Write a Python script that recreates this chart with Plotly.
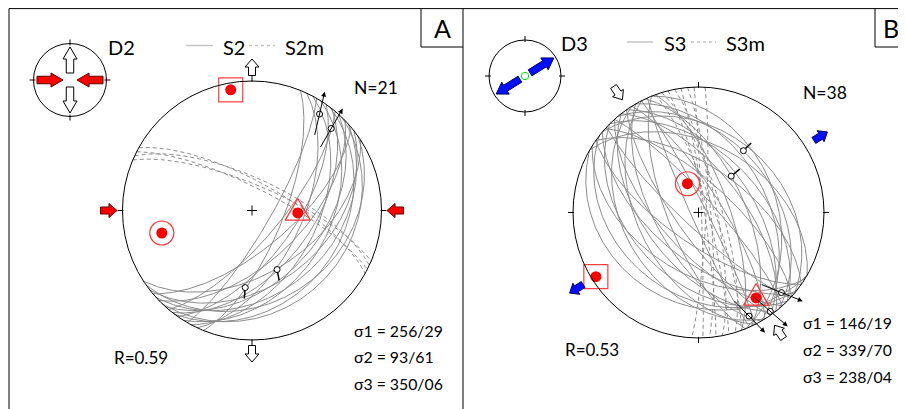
import numpy as np
import plotly.graph_objects as go

# ---------------- data ----------------
# Panel A (D2) : S2 cleavage planes (strike RHR / dip) and S2m
A_S2_strike = [22, 25, 28, 30, 32, 35, 37, 38, 40, 42, 44, 46, 48, 50, 52, 55, 57]
A_S2_dip = [70, 58, 48, 78, 40, 62, 30, 52, 72, 45, 24, 58, 36, 66, 42, 30, 50]
A_S2m_strike = [293, 295, 297, 299]
A_S2m_dip = [74, 70, 76, 72]
# Panel B (D3) : S3 planes and S3m
B_S3_strike = [300, 305, 310, 312, 315, 318, 320, 322, 325, 328, 330, 333, 335, 338, 340,
               122, 125, 128, 130, 133, 135, 138, 120, 142, 145, 148, 150, 153, 156, 158]
B_S3_dip = [45, 60, 35, 70, 50, 80, 40, 62, 55, 75, 45, 85, 60, 38, 70,
            50, 70, 35, 60, 80, 45, 65, 28, 55, 75, 40, 62, 50, 85, 70]
B_S3m_strike = [340, 343, 346, 349, 352, 355, 358, 3]
B_S3m_dip = [80, 75, 84, 78, 86, 82, 88, 85]

# principal stress axes (trend/plunge) and plotted symbol
sigma_labels = ["σ1", "σ2", "σ3"]
A_sigma_trend = [256, 93, 350]
A_sigma_plunge = [29, 61, 6]
A_sigma_symbol = ["ring", "triangle", "square"]
B_sigma_trend = [146, 339, 238]
B_sigma_plunge = [19, 70, 4]
B_sigma_symbol = ["triangle", "ring", "square"]
A_R_ratio = "0.59"
B_R_ratio = "0.53"
A_N = 21
B_N = 38

# striae (trend/plunge) with slip symbol kind and screen azimuth of the slip mark
A_stria_trend = [35, 44, 185, 157]
A_stria_plunge = [10, 13, 40, 49]
A_stria_kind = ["arrow", "arrow", "tick", "tick"]
A_stria_az = [13, 30, 185, 169]
B_stria_trend = [36, 42, 134, 144, 154]
B_stria_plunge = [39, 58, 9, 3, 9]
B_stria_kind = ["tick", "tick", "arrow", "arrow", "arrow"]
B_stria_az = [45, 50, 112, 131, 136]

# horizontal stress directions (azimuths) for the big arrows
A_compression_az = [90, 270]
A_extension_az = [0, 180]
B_compression_az = [146, 326]
B_extension_az = [58, 238]

# ---------------- geometry helpers ----------------
PA = dict(cx=252.0, cy=210.5, R=129.5)
PB = dict(cx=698.5, cy=212.5, R=125.5)
IA = dict(cx=70.0, cy=80.0, R=36.5)
IB = dict(cx=525.0, cy=76.0, R=36.0)


def proj_line(trend, plunge, P):
    t = np.radians(trend)
    p = np.radians(plunge)
    r = P["R"] * np.sqrt(1 - np.sin(p))
    return P["cx"] + r * np.sin(t), P["cy"] - r * np.cos(t)


def great_circles(strikes, dips, P, n=181):
    xs, ys = [], []
    for s_deg, d_deg in zip(strikes, dips):
        s = np.radians(s_deg)
        d = np.radians(d_deg)
        dd = s + np.pi / 2
        t = np.linspace(0, np.pi, n)
        S = np.array([np.sin(s), np.cos(s), 0.0])
        D = np.array([np.sin(dd) * np.cos(d), np.cos(dd) * np.cos(d), -np.sin(d)])
        v = np.outer(np.cos(t), S) + np.outer(np.sin(t), D)
        e, nn, u = v.T
        h = np.hypot(e, nn)
        h = np.where(h < 1e-9, 1, h)
        r = P["R"] * np.sqrt(np.clip(1 + u, 0, None))
        xs += list(P["cx"] + r * e / h) + [None]
        ys += list(P["cy"] - r * nn / h) + [None]
    return xs, ys


def block_arrow(tx, ty, az, L, hl, hw, sw):
    a = np.radians(az)
    f = np.array([np.sin(a), -np.cos(a)])
    p = np.array([np.cos(a), np.sin(a)])
    T = np.array([tx, ty])
    pts = [T,
           T - hl * f + hw / 2 * p,
           T - hl * f + sw / 2 * p,
           T - L * f + sw / 2 * p,
           T - L * f - sw / 2 * p,
           T - hl * f - sw / 2 * p,
           T - hl * f - hw / 2 * p]
    return "M " + " L ".join(f"{q[0]:.2f},{q[1]:.2f}" for q in pts) + " Z"


def polar(P, az, dist):
    a = np.radians(az)
    return P["cx"] + dist * np.sin(a), P["cy"] - dist * np.cos(a)


fig = go.Figure()
shapes = []
annotations = []

FONT = "Lato, 'Noto Sans', sans-serif"
GRAY = "#8c8c8c"

# frame
TOP = 8.6
for (x0, y0, x1, y1) in [(9, TOP, 912, TOP), (9, TOP, 9, 412), (463, TOP, 463, 412),
                         (421, TOP, 421, 47), (421, 47, 463, 47),
                         (875, TOP, 875, 47), (875, 47, 912, 47)]:
    shapes.append(dict(type="line", x0=x0, y0=y0, x1=x1, y1=y1,
                       line=dict(color="black", width=1)))
annotations.append(dict(x=442, y=28, text="A", showarrow=False,
                        font=dict(family=FONT, size=25, color="black")))
annotations.append(dict(x=891, y=28, text="B", showarrow=False,
                        font=dict(family=FONT, size=25, color="black")))


def stereonet(P, tick_len=5, inner=1, cross=True):
    shapes.append(dict(type="circle", x0=P["cx"] - P["R"], x1=P["cx"] + P["R"],
                       y0=P["cy"] - P["R"], y1=P["cy"] + P["R"],
                       line=dict(color="black", width=1)))
    for az in (0, 90, 180, 270):
        x0, y0 = polar(P, az, P["R"] - inner)
        x1, y1 = polar(P, az, P["R"] + tick_len)
        shapes.append(dict(type="line", x0=x0, y0=y0, x1=x1, y1=y1,
                           line=dict(color="black", width=1)))
    if cross:
        for (dx, dy) in [(5, 0), (0, 5)]:
            shapes.append(dict(type="line", x0=P["cx"] - dx, y0=P["cy"] - dy,
                               x1=P["cx"] + dx, y1=P["cy"] + dy,
                               line=dict(color="black", width=1)))


stereonet(PA)
stereonet(PB)
stereonet(IA, tick_len=4, inner=2, cross=False)
stereonet(IB, tick_len=4, inner=2, cross=False)

# great circles
for (st, dp, P, dash) in [(A_S2_strike, A_S2_dip, PA, None),
                          (A_S2m_strike, A_S2m_dip, PA, "4px,3px"),
                          (B_S3_strike, B_S3_dip, PB, None),
                          (B_S3m_strike, B_S3m_dip, PB, "4px,3px")]:
    x, y = great_circles(st, dp, P)
    fig.add_trace(go.Scatter(x=x, y=y, mode="lines", hoverinfo="skip",
                             line=dict(color=GRAY, width=1, dash=dash)))

# stress axes
RED = "#ff0000"
for (tr, pl, sym, P) in [(A_sigma_trend, A_sigma_plunge, A_sigma_symbol, PA),
                         (B_sigma_trend, B_sigma_plunge, B_sigma_symbol, PB)]:
    for t, p, s in zip(tr, pl, sym):
        x, y = proj_line(t, p, P)
        if s == "ring":
            fig.add_trace(go.Scatter(x=[x], y=[y], mode="markers", hoverinfo="skip",
                                     marker=dict(symbol="circle-open", size=24,
                                                 color="#ff3030", line=dict(width=1.2))))
        elif s == "square":
            fig.add_trace(go.Scatter(x=[x], y=[y], mode="markers", hoverinfo="skip",
                                     marker=dict(symbol="square-open", size=24,
                                                 color="#ff4040", line=dict(width=1.2))))
        else:
            cr = 25 / np.sqrt(3)
            angs = np.radians([0, 120, 240, 0])
            fig.add_trace(go.Scatter(x=list(x + cr * np.sin(angs)),
                                     y=list(y - cr * np.cos(angs)),
                                     mode="lines", hoverinfo="skip",
                                     line=dict(color="#ff3030", width=1.2)))
        fig.add_trace(go.Scatter(x=[x], y=[y], mode="markers", hoverinfo="skip",
                                 marker=dict(symbol="circle", size=11, color=RED)))

# striae
for (tr, pl, kind, saz, P) in [(A_stria_trend, A_stria_plunge, A_stria_kind, A_stria_az, PA),
                               (B_stria_trend, B_stria_plunge, B_stria_kind, B_stria_az, PB)]:
    for t, p, k, a in zip(tr, pl, kind, saz):
        x, y = proj_line(t, p, P)
        ar = np.radians(a)
        fx, fy = np.sin(ar), -np.cos(ar)
        if k == "tick":
            shapes.append(dict(type="line", x0=x + 3 * fx, y0=y + 3 * fy,
                               x1=x + 11 * fx, y1=y + 11 * fy,
                               line=dict(color="black", width=1.5)))
        else:
            annotations.append(dict(x=x + 23 * fx, y=y + 23 * fy,
                                    ax=x - 23 * fx, ay=y - 23 * fy,
                                    xref="x", yref="y", axref="x", ayref="y",
                                    text="", showarrow=True, arrowhead=2,
                                    arrowsize=1, arrowwidth=1, arrowcolor="black"))
        fig.add_trace(go.Scatter(x=[x], y=[y], mode="markers", hoverinfo="skip",
                                 marker=dict(symbol="circle", size=6, color="white",
                                             line=dict(color="black", width=1))))


# big arrows around the stereonets
def arrows(P, comp_az, ext_az, comp_style, ext_style, d_in, d_out, hl, hw, sw):
    L = d_out - d_in
    for az in comp_az:
        tx, ty = polar(P, az, d_in)
        shapes.append(dict(type="path", path=block_arrow(tx, ty, az + 180, L, hl, hw, sw),
                           fillcolor=comp_style[0], line=dict(color=comp_style[1], width=1)))
    for az in ext_az:
        tx, ty = polar(P, az, d_out)
        shapes.append(dict(type="path", path=block_arrow(tx, ty, az, L, hl, hw, sw),
                           fillcolor=ext_style[0], line=dict(color=ext_style[1], width=1)))


RED_ST = ("#ff0000", "#600000")
WHITE_ST = ("white", "black")
BLUE_ST = ("#0010ff", "#000060")
arrows(PA, A_compression_az, A_extension_az, RED_ST, WHITE_ST, 135, 151.5, 8, 14, 7)
arrows(PB, B_compression_az, B_extension_az, WHITE_ST, BLUE_ST, 136, 152, 8, 13, 7)
arrows(IA, A_compression_az, A_extension_az, RED_ST, WHITE_ST, 7, 33, 12, 14, 7.5)
# inset B : only extension (blue double arrow) + green centre
arrows(IB, [], B_extension_az, RED_ST, BLUE_ST, 6, 34, 11, 14, 7)
shapes.append(dict(type="circle", x0=IB["cx"] - 3.7, x1=IB["cx"] + 3.7,
                   y0=IB["cy"] - 3.7, y1=IB["cy"] + 3.7,
                   line=dict(color="#00e000", width=1)))

# legends
LEG = "#c4c4c4"
for (x0, x1, y, dash) in [(186, 213, 45.5, None), (249, 275, 45.5, "3px,3px"),
                          (627, 653, 42, None), (691, 716, 42, "3px,3px")]:
    fig.add_trace(go.Scatter(x=[x0, x1], y=[y, y], mode="lines", hoverinfo="skip",
                             line=dict(color=LEG, width=1.5, dash=dash)))


def txt(x, y, s, size):
    annotations.append(dict(x=x, y=y, text=s, showarrow=False, xanchor="left",
                            yanchor="middle",
                            font=dict(family=FONT, size=size, color="black")))


txt(106, 46.5, "D2", 20)
txt(221, 46.5, "S2", 20)
txt(283, 46.5, "S2m", 20)
txt(559, 43, "D3", 20)
txt(662, 43, "S3", 20)
txt(724, 43, "S3m", 20)
txt(352, 87.5, f"N={A_N}", 17.5)
txt(801, 92, f"N={B_N}", 17.5)
txt(112, 357, f"R={A_R_ratio}", 17)
txt(563, 349.5, f"R={B_R_ratio}", 17)
for i, (lab, t, p) in enumerate(zip(sigma_labels, A_sigma_trend, A_sigma_plunge)):
    txt(352, 330 + 26.8 * i, f"{lab} = {t}/{p:02d}", 15.8)
for i, (lab, t, p) in enumerate(zip(sigma_labels, B_sigma_trend, B_sigma_plunge)):
    txt(801, 322.5 + 26.8 * i, f"{lab} = {t}/{p:02d}", 15.8)

# the page puts the figure 8 px from the window's top-left corner, so the
# axis ranges start at 8 to keep window pixels and data units aligned
fig.update_layout(
    width=906, height=409,
    margin=dict(l=0, r=0, t=0, b=0),
    paper_bgcolor="white", plot_bgcolor="white",
    showlegend=False,
    shapes=shapes, annotations=annotations,
    xaxis=dict(range=[8, 914], visible=False, fixedrange=True),
    yaxis=dict(range=[417, 8], visible=False, fixedrange=True),
)
fig.write_html("out.html")
